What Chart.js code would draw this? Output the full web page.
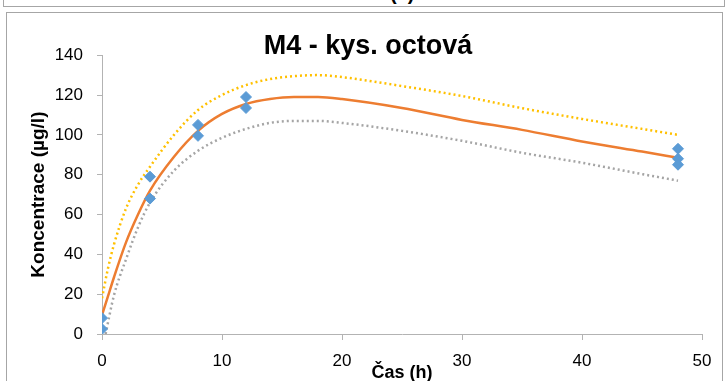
<!DOCTYPE html>
<html>
<head>
<meta charset="utf-8">
<script src="https://cdn.jsdelivr.net/npm/chart.js@4"></script>
<style>
  body { margin: 0; background: #fff; overflow: hidden; }
  #strip { position: absolute; left: 3px; top: -12px; width: 720px; height: 17px; border: 1px solid #a6a6a6; overflow: hidden; }
  #strip span { position: absolute; left: 386px; top: -7px; font: bold 20px 'Liberation Sans', sans-serif; }
  #frame { position: absolute; left: 6px; top: 12px; width: 715px; height: 400px; border: 1px solid #a6a6a6; }
  #wrap { position: absolute; left: 0; top: 0; width: 727px; height: 381px; }
</style>
</head>
<body>
<div id="strip"><span>(a)</span></div>
<div id="frame"></div>
<div id="wrap"><canvas id="chart"></canvas></div>
<script>
// measured points (time in h, concentration in µg/l)
const timeH    = [0, 0, 4, 4, 8, 8, 12, 12, 48, 48, 48];
const measured = [8, 2.5, 79, 68, 105, 99.5, 119, 113.5, 93, 88, 85];

// fitted curve and its bands
const curveX = [0, 0.5, 1, 2, 3, 4, 6, 8, 10, 12, 14, 16, 18, 20, 25, 30, 35, 40, 45, 48];
const fitY   = [9.5, 19, 28.5, 46, 60, 72, 89, 102, 110.5, 115.5, 118, 119, 119, 118, 113.5, 107.5, 102.5, 96.7, 91.6, 88.5];
const upperY = [18, 33, 45, 63, 75, 84, 100, 112.5, 120, 125, 128, 129.5, 130, 129, 124.5, 119.5, 113.4, 108, 103, 100];
const lowerX = [0.3, 1, 2, 3, 4, 6, 8, 10, 12, 14, 16, 18, 20, 25, 30, 35, 40, 45, 48];
const lowerY = [0, 19.5, 37.5, 53.5, 66, 82, 92, 98.5, 103, 106, 107, 107, 106, 102, 97, 91, 86, 80.3, 77];

const xTicks = [0, 10, 20, 30, 40, 50];
const yTicks = [0, 20, 40, 60, 80, 100, 120, 140];

const FONT = "'Liberation Sans', Arial, sans-serif";
const AXIS = '#b3b3b3';

const pts = (xs, ys) => xs.map((x, i) => ({ x, y: ys[i] }));

new Chart(document.getElementById('chart'), {
  type: 'scatter',
  data: {
    datasets: [
      {
        data: pts(timeH, measured),
        backgroundColor: '#5b9bd5',
        borderColor: '#5b9bd5',
        pointStyle: 'rectRot',
        pointRadius: 5.5,
        borderWidth: 1,
        order: 0,
      },
      {
        data: pts(curveX, fitY),
        showLine: true,
        borderColor: '#ed7d31',
        borderWidth: 2.5,
        pointRadius: 0,
        cubicInterpolationMode: 'monotone',
        order: 1,
      },
      {
        data: pts(curveX, upperY),
        showLine: true,
        borderColor: '#ffc000',
        borderWidth: 2.5,
        borderDash: [2, 3],
        pointRadius: 0,
        cubicInterpolationMode: 'monotone',
        order: 2,
      },
      {
        data: pts(lowerX, lowerY),
        showLine: true,
        borderColor: '#a5a5a5',
        borderWidth: 2.5,
        borderDash: [2, 3],
        pointRadius: 0,
        cubicInterpolationMode: 'monotone',
        order: 3,
      },
    ],
  },
  options: {
    responsive: true,
    maintainAspectRatio: false,
    animation: false,
    // left padding shifts the title centre to match the original
    layout: { padding: { left: 34, right: 25, top: 0, bottom: 0 } },
    plugins: {
      legend: { display: false },
      tooltip: { enabled: false },
      title: {
        display: true,
        text: 'M4 - kys. octová',
        color: '#000',
        font: { family: FONT, size: 27, weight: 'bold', lineHeight: 0.6 },
        padding: { top: 38, bottom: 1 },
      },
    },
    scales: {
      x: {
        type: 'linear',
        min: 0, max: 50,
        afterFit: s => { s.height = 47; },
        afterBuildTicks: s => { s.ticks = xTicks.map(v => ({ value: v })); },
        grid: { drawOnChartArea: false, tickLength: 6, color: AXIS },
        border: { color: AXIS, width: 1 },
        ticks: { color: '#000', padding: 11, font: { family: FONT, size: 17 } },
        title: {
          display: true,
          text: 'Čas (h)',
          color: '#000',
          font: { family: FONT, size: 18, weight: 'bold' },
          padding: { top: 0, bottom: -3 },
        },
      },
      y: {
        min: 0, max: 140,
        afterFit: s => { s.width = 68; },
        afterBuildTicks: s => { s.ticks = yTicks.map(v => ({ value: v })); },
        grid: { drawOnChartArea: false, tickLength: 5, color: AXIS },
        border: { color: AXIS, width: 1 },
        ticks: { color: '#000', padding: 14, font: { family: FONT, size: 17 } },
        title: {
          display: true,
          text: 'Koncentrace (µg/l)',
          color: '#000',
          font: { family: FONT, size: 19, weight: 'bold' },
          padding: { top: -6.5, bottom: 0 },
        },
      },
    },
  },
});
</script>
</body>
</html>
